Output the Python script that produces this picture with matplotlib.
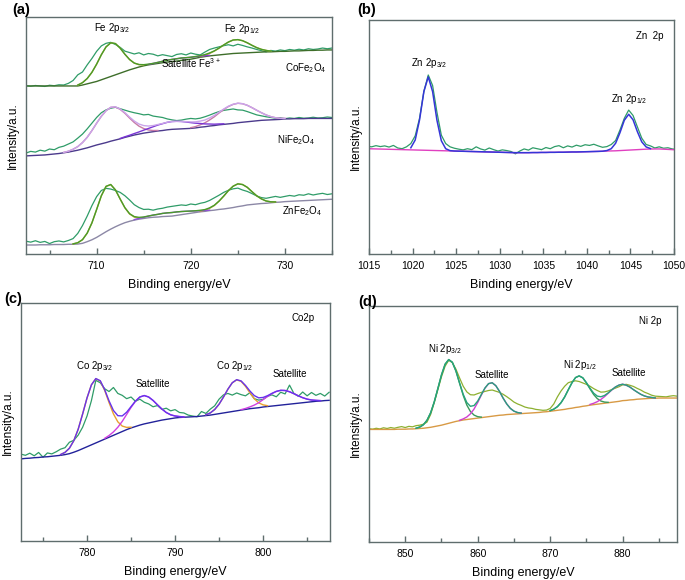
import numpy as np
import matplotlib.pyplot as plt
from matplotlib.ticker import MultipleLocator

plt.rcParams['font.family'] = ['Liberation Sans', 'DejaVu Sans']
plt.rcParams['mathtext.default'] = 'regular'

# ---- panel (a) Fe 2p, three ferrites, 0.5 eV grid 702.5..735
Ea = np.arange(702.5, 735.01, 0.5)
co_raw = [71.0, 70.8, 71.1, 70.9, 70.7, 71.2, 71.0, 71.4, 71.3, 72.0,
          73.2, 75.6, 76.8, 79.8, 82.5, 85.5, 87.8, 88.9, 89.3, 88.4,
          87.2, 85.6, 85.0, 84.4, 84.9, 84.0, 84.6, 84.3, 83.6, 84.1,
          83.7, 83.3, 84.2, 84.5, 84.0, 84.8, 84.3, 84.0, 85.2, 86.3,
          86.9, 87.4, 87.9, 88.3, 87.8, 88.5, 88.0, 87.4, 86.9, 86.3,
          85.8, 85.3, 85.9, 85.6, 86.1, 85.8, 86.3, 86.0, 86.4, 86.1,
          86.6, 86.3, 86.5, 86.9, 86.6, 86.9]
co_bg = [70.9] * 10 + [
          70.9, 70.9, 71.3, 71.8, 72.3, 72.8, 73.5, 74.2, 74.9, 75.6,
          76.3, 77.0, 77.7, 78.3, 78.9, 79.4, 79.8, 80.1, 80.4, 80.7,
          81.0, 81.2, 81.4, 81.7, 81.9, 82.2, 82.6, 83.0, 83.3, 83.6,
          83.8, 84.0, 84.2, 84.4, 84.6, 84.7, 84.8, 84.9, 85.0, 85.1,
          85.2, 85.3, 85.3, 85.4, 85.5, 85.5, 85.6, 85.7, 85.7, 85.8,
          85.9, 85.9, 86.0, 86.0, 86.1, 86.1]
co_pk = [(711.5, 14.2, 1.3), (724.8, 5.8, 1.5), (718.8, 1.0, 1.8)]

ni_raw = [42.6, 43.3, 43.0, 43.8, 43.4, 44.3, 44.0, 45.0, 45.5, 46.4,
          47.3, 48.9, 50.6, 52.8, 55.2, 57.6, 59.6, 60.8, 61.5, 61.9,
          61.3, 60.7, 60.1, 59.6, 59.2, 58.7, 58.9, 58.2, 57.9, 57.6,
          57.0, 56.6, 56.3, 56.5, 56.9, 57.2, 57.0, 57.3, 57.9, 58.6,
          59.4, 60.1, 60.6, 60.9, 61.2, 60.8, 60.7, 60.1, 59.4, 58.7,
          58.3, 57.9, 57.6, 57.3, 57.5, 57.1, 57.4, 57.2, 57.6, 57.3,
          57.4, 57.7, 57.4, 57.5, 57.8, 57.6]
ni_bg = [41.4, 41.5, 41.6, 41.7, 41.8, 42.0, 42.2, 42.4, 42.7, 43.0,
         43.4, 43.8, 44.3, 44.8, 45.4, 46.0, 46.5, 47.0, 47.6, 48.1,
         48.6, 49.2, 49.7, 50.2, 50.6, 51.0, 51.3, 51.6, 51.9, 52.1,
         52.4, 52.6, 52.7, 52.8, 52.9, 53.0, 53.2, 53.5, 53.7, 54.0,
         54.2, 54.5, 54.7, 54.9, 55.1, 55.4, 55.6, 55.8, 56.0, 56.2,
         56.4, 56.5, 56.6, 56.7, 56.8, 57.0, 57.0, 57.1, 57.1, 57.1,
         57.2, 57.2, 57.2, 57.2, 57.2, 57.2]
ni_pk = [(711.6, 14.3, 1.7), (724.9, 8.2, 1.9), (718.2, 3.3, 2.3)]

zn_raw = [5.4, 5.0, 5.6, 4.9, 5.3, 4.4, 5.2, 5.5, 5.1, 5.7,
          6.5, 8.7, 12.0, 16.0, 20.4, 24.2, 26.8, 27.7, 27.4, 26.8,
          26.0, 24.6, 22.8, 20.8, 19.6, 18.8, 18.9, 18.5, 19.0, 19.3,
          19.8, 20.1, 20.4, 20.7, 20.5, 21.1, 20.8, 21.4, 21.8, 22.6,
          23.7, 24.8, 26.0, 26.9, 27.5, 27.8, 27.0, 26.4, 25.5, 24.5,
          23.8, 23.5, 23.9, 24.3, 23.9, 24.3, 24.7, 24.4, 25.0, 24.8,
          25.4, 24.9, 25.3, 25.6, 25.1, 25.4]
zn_bg = [3.8, 3.8, 3.8, 3.9, 3.9, 3.9, 4.0, 4.0, 4.0, 4.1,
         4.1, 4.2, 4.5, 5.2, 6.0, 7.0, 8.2, 9.4, 10.5, 11.5,
         12.4, 13.2, 13.8, 14.3, 14.7, 15.0, 15.3, 15.5, 15.6, 15.8,
         15.9, 16.0, 16.3, 16.6, 16.9, 17.2, 17.5, 17.8, 18.0, 18.3,
         18.5, 18.8, 19.0, 19.3, 19.6, 20.0, 20.3, 20.7, 20.9, 21.1,
         21.3, 21.4, 21.6, 21.8, 21.9, 22.1, 22.2, 22.3, 22.4, 22.5,
         22.6, 22.7, 22.8, 22.9, 23.0, 23.1]
zn_pk = [(711.2, 19.4, 1.2), (725.0, 9.6, 1.4), (718.0, 1.5, 2.0)]

# ---- panel (b) Zn 2p
Eb = np.arange(1014.8, 1050.31, 0.5)
b_raw = [46.0, 45.8, 46.3, 45.9, 46.2, 45.7, 46.4, 45.3, 45.0, 45.8,
         47.2, 50.5, 58.0, 69.5, 76.5, 72.0, 60.5, 50.8, 47.2, 45.8,
         45.2, 44.8, 44.5, 45.0, 44.6, 45.8, 44.9, 44.4, 45.3, 44.6,
         44.0, 44.5, 44.2, 43.8, 42.8, 44.0, 44.9, 44.4, 45.4, 45.0,
         44.6, 45.5, 45.0, 45.9, 46.3, 45.4, 46.2, 45.7, 46.5, 46.0,
         46.7, 46.4, 46.9, 46.2, 45.6, 45.9, 46.8, 48.5, 53.0, 58.0,
         61.5, 59.2, 54.3, 49.5, 46.8, 46.2, 45.3, 45.8, 45.2, 45.4,
         44.9, 44.7]
b_bg = [45.0, 44.95, 44.9, 44.85, 44.8, 44.75, 44.7, 44.65, 44.6, 44.55,
        44.5, 44.45, 44.4, 44.35, 44.3, 44.25, 44.2, 44.15, 44.1, 44.05,
        44.0, 43.95, 43.9, 43.85, 43.8, 43.75, 43.7, 43.65, 43.6, 43.55,
        43.5, 43.45, 43.4, 43.35, 43.3, 43.3, 43.3, 43.3, 43.35, 43.35,
        43.4, 43.4, 43.45, 43.45, 43.5, 43.5, 43.55, 43.6, 43.6, 43.65,
        43.7, 43.75, 43.8, 43.85, 43.9, 44.0, 44.05, 44.1, 44.2, 44.3,
        44.4, 44.5, 44.6, 44.7, 44.8, 44.85, 44.9, 44.9, 44.8, 44.7,
        44.6, 44.5]
b_pk = [(1021.8, 31.4, 0.75), (1044.8, 15.3, 0.85)]

# ---- panel (c) Co 2p
Ec = np.arange(772.5, 807.51, 0.5)
c_raw = [36.5, 36.0, 36.9, 35.8, 37.2, 35.2, 37.0, 36.6, 37.5, 38.6,
         39.2, 41.5, 42.3, 44.5, 47.8, 52.5, 59.0, 67.5, 66.5, 64.0,
         62.8, 64.5, 62.0, 61.2, 59.8, 60.5, 58.7, 59.6, 58.3, 57.6,
         56.4, 56.9, 55.3, 55.8, 54.7, 55.2, 54.0, 53.8, 52.9, 52.5,
         52.2, 54.4, 53.6, 55.4, 56.8, 59.6, 61.4, 62.0, 61.3, 62.2,
         61.5, 61.0, 62.3, 59.8, 59.2, 59.5, 60.8, 61.4, 60.6, 62.5,
         61.8, 65.5, 62.0, 60.8, 62.6, 61.0, 62.4, 61.2, 62.0, 60.9,
         62.5]
c_bg = [34.5, 34.7, 34.8, 35.0, 35.1, 35.3, 35.4, 35.6, 35.8, 36.0,
        36.3, 36.7, 37.3, 38.0, 38.8, 39.6, 40.4, 41.2, 42.0, 42.8,
        43.6, 44.4, 45.2, 46.0, 46.8, 47.5, 48.1, 48.7, 49.2, 49.6,
        50.0, 50.4, 50.8, 51.1, 51.4, 51.7, 51.9, 52.0, 52.1, 52.2,
        52.3, 52.5, 52.7, 52.9, 53.2, 53.5, 53.8, 54.1, 54.4, 54.7,
        55.0, 55.3, 55.6, 55.8, 56.0, 56.3, 56.5, 56.7, 56.9, 57.1,
        57.3, 57.5, 57.7, 57.9, 58.1, 58.3, 58.5, 58.7, 58.8, 59.0,
        59.1]
c_pk = [(781.0, 27.0, 1.35), (786.3, 12.0, 1.6), (797.0, 13.0, 1.3), (802.0, 6.2, 1.7)]

# ---- panel (d) Ni 2p
Ed = np.arange(845.0, 887.51, 0.5)
d_raw = [48.0, 47.8, 48.2, 47.9, 48.4, 48.1, 48.5, 48.2, 48.6, 48.9,
         48.5, 49.0, 48.8, 49.3, 49.5, 49.9, 50.8, 54.0, 59.0, 64.5,
         70.0, 74.5, 77.0, 76.0, 73.2, 69.5, 66.0, 63.6, 62.4, 62.3,
         62.9, 63.4, 63.8, 64.2, 64.4, 63.9, 63.4, 62.6, 61.6, 60.5,
         59.3, 58.5, 57.9, 57.2, 56.8, 56.6, 56.2, 56.0, 55.8, 55.9,
         56.6, 58.5, 61.5, 64.0, 66.0, 67.5, 68.0, 68.3, 68.0, 67.4,
         66.8, 66.0, 65.0, 64.2, 63.5, 63.6, 64.0, 64.6, 65.2, 65.8,
         66.6, 66.8, 66.4, 65.9, 65.1, 64.4, 63.5, 62.9, 62.2, 61.8,
         61.7, 61.6, 61.5, 61.8, 62.0, 61.8]
d_bg = [47.7] * 8 + [47.8, 47.8,
        47.8, 47.9, 47.9, 48.0, 48.1, 48.2, 48.4, 48.6, 48.9, 49.2,
        49.5, 49.9, 50.3, 50.7, 51.1, 51.4, 51.7, 51.9, 52.1, 52.3,
        52.5, 52.7, 52.9, 53.1, 53.3, 53.5, 53.7, 53.8, 54.0, 54.1,
        54.2, 54.3, 54.4, 54.5, 54.6, 54.7, 54.8, 54.9, 55.1, 55.2,
        55.4, 55.6, 55.8, 56.0, 56.2, 56.5, 56.7, 57.0, 57.2, 57.5,
        57.7, 58.0, 58.2, 58.4, 58.6, 58.8, 59.0, 59.2, 59.4, 59.6,
        59.9, 60.0, 60.2, 60.3, 60.5, 60.6, 60.7, 60.8, 60.9, 60.9] + [61.0] * 6
d_pk = [(856.0, 27.0, 1.45), (861.8, 14.3, 1.45), (873.9, 13.2, 1.4), (879.8, 7.0, 1.7)]


def comp(E, c, h, s):
    return h * np.exp(-(E - c) ** 2 / (2 * s ** 2))


def fitset(ax, E, raw, bg, pks, rawc, envc, compc, bgc, lw=1.0, cut=0.15):
    bg = np.array(bg)
    ax.plot(E, raw, color=rawc, lw=0.9)
    ax.plot(E, bg, color=bgc, lw=lw)
    for (c, h, s), cc in zip(pks, compc):
        g = comp(E, c, h, s)
        ax.plot(E, np.where(g > cut, bg + g, np.nan), color=cc, lw=lw)
    tot = sum(comp(E, c, h, s) for c, h, s in pks)
    ax.plot(E, np.where(tot > cut, bg + tot, np.nan), color=envc, lw=lw)


axcol = '#5f6d6d'


def style(ax, xlim, major, minor):
    ax.set_xlim(*xlim)
    ax.set_ylim(0, 100)
    ax.set_yticks([])
    ax.xaxis.set_major_locator(MultipleLocator(major))
    ax.xaxis.set_minor_locator(MultipleLocator(minor))
    ax.tick_params(axis='x', which='major', direction='in', length=4, width=1,
                   color=axcol, labelsize=7.5, pad=5)
    ax.tick_params(axis='x', which='minor', direction='in', length=3, width=1, color=axcol)
    for sp in ax.spines.values():
        sp.set_color(axcol)
        sp.set_linewidth(1.0)
    ax.set_xlabel('Binding energy/eV', fontsize=9, labelpad=6)
    ax.set_ylabel('Intensity/a.u.', fontsize=8.5, labelpad=5)


fig = plt.figure(figsize=(6.85, 5.8), dpi=100)

raw_g = '#2f9c68'

# (a)
ax = fig.add_axes([26/685, 1-254/580, 306/685, 237/580])
fitset(ax, Ea, co_raw, co_bg, co_pk, raw_g, '#4a9a2a', ['#c2b23a', '#c2b23a', '#8a3fd1'], '#3e6e2a')
fitset(ax, Ea, ni_raw, ni_bg, ni_pk, raw_g, '#caa4ea', ['#c77aa6', '#c77aa6', '#7a35d5'], '#4b3a8c')
fitset(ax, Ea, zn_raw, zn_bg, zn_pk, raw_g, '#4a9a2a', ['#c2b23a', '#c2b23a', '#9050d8'], '#8c88a6')
style(ax, (702.5, 735.0), 10, 5)
ax.text(711.6, 95.2, 'Fe 2p$_{3/2}$', fontsize=7, ha='center', va='center')
ax.text(725.5, 94.8, 'Fe 2p$_{1/2}$', fontsize=7, ha='center', va='center')
ax.text(720.0, 80.4, 'Satellite Fe$^{3+}$', fontsize=7, ha='center', va='center')
ax.text(732.2, 78.3, 'CoFe$_2$O$_4$', fontsize=7, ha='center', va='center')
ax.text(731.2, 48.0, 'NiFe$_2$O$_4$', fontsize=7, ha='center', va='center')
ax.text(731.8, 18.3, 'ZnFe$_2$O$_4$', fontsize=7, ha='center', va='center')

# (b)
ax = fig.add_axes([369/685, 1-254/580, 305/685, 234/580])
fitset(ax, Eb, b_raw, b_bg, [], raw_g, '#3535d8', [], '#e040c0')
env = np.array(b_bg) + sum(comp(Eb, c, h, s) for c, h, s in b_pk)
ax.plot(Eb, np.where((Eb > 1019.5) & (Eb < 1047.5), env, np.nan), color='#3535d8', lw=1.1)
style(ax, (1015, 1050), 5, 2.5)
ax.text(1021.9, 81.6, 'Zn 2p$_{3/2}$', fontsize=7, ha='center', va='center')
ax.text(1044.8, 66.3, 'Zn 2p$_{1/2}$', fontsize=7, ha='center', va='center')
ax.text(1047.2, 93.2, 'Zn  2p', fontsize=7, ha='center', va='center')

# (c)
ax = fig.add_axes([21/685, 1-541/580, 309/685, 238/580])
fitset(ax, Ec, c_raw, c_bg, c_pk, raw_g, '#6633ee',
       ['#e8a030', '#d040e0', '#e8a030', '#d040e0'], '#22229a')
style(ax, (772.5, 807.6), 10, 5)
ax.text(780.9, 73.6, 'Co 2p$_{3/2}$', fontsize=7, ha='center', va='center')
ax.text(787.5, 66.1, 'Satellite', fontsize=7, ha='center', va='center')
ax.text(796.8, 73.6, 'Co 2p$_{1/2}$', fontsize=7, ha='center', va='center')
ax.text(803.0, 70.3, 'Satellite', fontsize=7, ha='center', va='center')
ax.text(804.5, 93.5, 'Co2p', fontsize=7, ha='center', va='center')

# (d)
ax = fig.add_axes([369/685, 1-542/580, 308/685, 236/580])
fitset(ax, Ed, d_raw, d_bg, d_pk, '#8db030', '#27a37c',
       ['#3a9a5a', '#d040d0', '#3a9a5a', '#d040d0'], '#d89a45')
style(ax, (845.0, 887.5), 10, 5)
ax.text(855.5, 81.9, 'Ni 2p$_{3/2}$', fontsize=7, ha='center', va='center')
ax.text(861.9, 70.9, 'Satellite', fontsize=7, ha='center', va='center')
ax.text(874.1, 74.9, 'Ni 2p$_{1/2}$', fontsize=7, ha='center', va='center')
ax.text(880.8, 71.8, 'Satellite', fontsize=7, ha='center', va='center')
ax.text(883.8, 93.5, 'Ni 2p', fontsize=7, ha='center', va='center')

for lab, x, y in [('(a)', 12, 10), ('(b)', 357, 10), ('(c)', 4, 299), ('(d)', 358, 302)]:
    fig.text(x/685, 1-y/580, lab, fontsize=10.5, fontweight='bold', ha='left', va='center')

fig.savefig('out.png', dpi=100)
